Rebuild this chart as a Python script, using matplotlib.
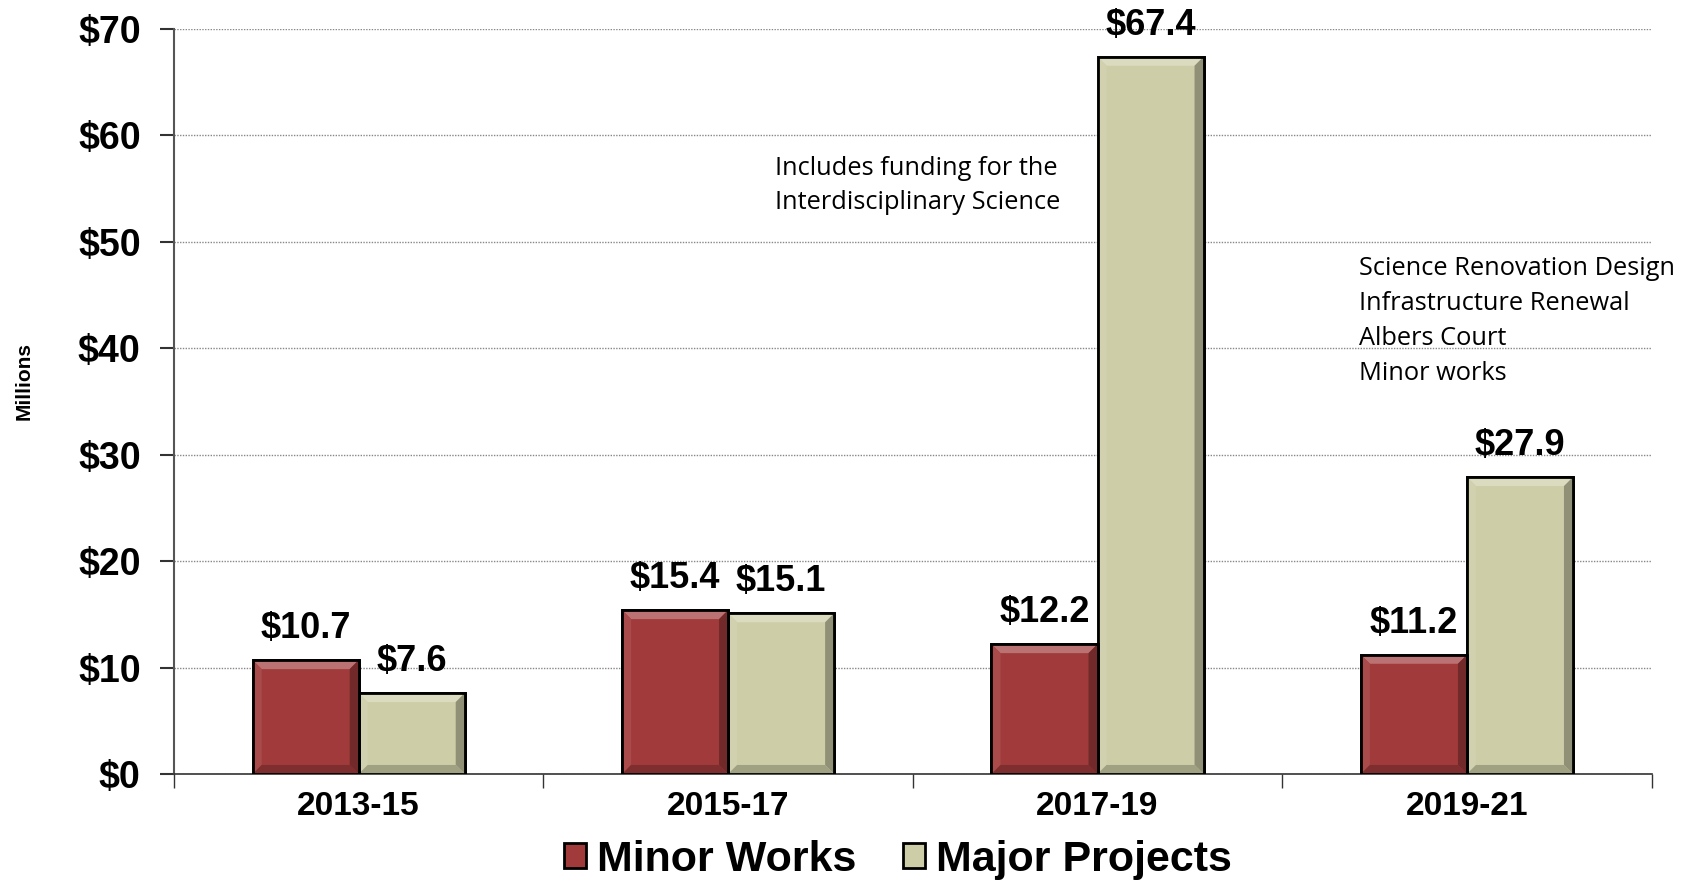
"""
Capital funding by biennium: minor works vs major projects
"""

import matplotlib
matplotlib.use("Agg")
import matplotlib.pyplot as plt
import matplotlib.patches as mpatches
import matplotlib.transforms as mtransforms
import numpy as np

# Data
periods = ["2013-15", "2015-17", "2017-19", "2019-21"]
minor_works = [10.7, 15.4, 12.2, 11.2]
major_projects = [7.6, 15.1, 67.4, 27.9]
series_names = ["Minor Works", "Major Projects"]
y_ticks = [0, 10, 20, 30, 40, 50, 60, 70]
note_science = "Includes funding for the\nInterdisciplinary Science"
note_renewal = "Science Renovation Design\nInfrastructure Renewal\nAlbers Court\nMinor works"

RED = "#A13B3B"
BEIGE = "#CDCDA8"


def shade(colour, amount):
    """Lighten (amount > 0) or darken (amount < 0) a colour."""
    rgb = np.array(matplotlib.colors.to_rgb(colour))
    if amount > 0:
        rgb = rgb + (1 - rgb) * amount
    else:
        rgb = rgb * (1 + amount)
    return tuple(np.clip(rgb, 0, 1))


def add_bevel(ax, patch, colour, depth=9):
    """Draw a bevelled edge inside a bar, in pixel units."""
    x0, y0, w, h = patch.get_x(), patch.get_y(), patch.get_width(), patch.get_height()
    (px0, py0), (px1, py1) = ax.transData.transform([(x0, y0), (x0 + w, y0 + h)])
    d = min(depth, (px1 - px0) / 2, (py1 - py0) / 2)
    outer = [(px0, py0), (px1, py0), (px1, py1), (px0, py1)]
    inner = [(px0 + d, py0 + d), (px1 - d, py0 + d), (px1 - d, py1 - d), (px0 + d, py1 - d)]
    faces = [
        ([outer[3], outer[2], inner[2], inner[3]], shade(colour, 0.28)),   # top
        ([outer[0], outer[3], inner[3], inner[0]], shade(colour, 0.08)),   # left
        ([outer[1], outer[2], inner[2], inner[1]], shade(colour, -0.30)),  # right
        ([outer[0], outer[1], inner[1], inner[0]], shade(colour, -0.22)),  # bottom
    ]
    for pts, c in faces:
        poly = mpatches.Polygon(pts, closed=True, facecolor=c, edgecolor="none",
                                transform=mtransforms.IdentityTransform(), zorder=3.5)
        poly.set_clip_on(False)
        ax.add_artist(poly)


fig = plt.figure(figsize=(16.94, 8.81), dpi=100)
ax = fig.add_axes([0.1027, 0.1215, 0.8723, 0.8455])

x = np.arange(len(periods))
width = 0.287

ax.set_xlim(-0.5, len(periods) - 0.5)
ax.set_ylim(0, 70)

bars_minor = ax.bar(x - width / 2, minor_works, width, color=RED, edgecolor="black",
                    linewidth=2, zorder=3)
bars_major = ax.bar(x + width / 2, major_projects, width, color=BEIGE, edgecolor="black",
                    linewidth=2, zorder=3)

for bars, colour in [(bars_minor, RED), (bars_major, BEIGE)]:
    for patch in bars:
        add_bevel(ax, patch, colour)
        # outline above the bevel
        ax.add_patch(mpatches.Rectangle((patch.get_x(), patch.get_y()), patch.get_width(),
                                        patch.get_height(), fill=False, edgecolor="black",
                                        linewidth=2, zorder=4))

label_font = dict(fontsize=26, fontweight="bold", family="Liberation Sans")
for bars in (bars_minor, bars_major):
    ax.bar_label(bars, labels=[f"${v:.1f}" for v in bars.datavalues], padding=10, **label_font)

# Axes styling
ax.set_yticks(y_ticks)
ax.set_yticklabels([f"${t}" for t in y_ticks], fontsize=27, fontweight="bold",
                   family="Liberation Sans")
ax.tick_params(axis="y", direction="out", length=10, width=1.5, color="#333333", pad=14)
ax.grid(axis="y", linestyle=(0, (1, 1)), color="#888888", linewidth=1, zorder=0)

ax.set_xticks(np.arange(len(periods) + 1) - 0.5)
ax.set_xticklabels([])
ax.tick_params(axis="x", which="major", direction="out", length=10, width=1, color="#333333")
ax.set_xticks(x, minor=True)
ax.set_xticklabels(periods, minor=True, fontsize=24, fontweight="bold", family="Liberation Sans")
ax.tick_params(axis="x", which="minor", length=0, pad=12)

ax.spines["top"].set_visible(False)
ax.spines["right"].set_visible(False)
ax.spines["left"].set_color("#555555")
ax.spines["left"].set_linewidth(1.5)
ax.spines["bottom"].set_color("#333333")
ax.spines["bottom"].set_linewidth(1.2)

fig.text(0.014, 0.568, "Millions", rotation=90, ha="center", va="center", fontsize=15,
         fontweight="bold", family="Liberation Sans")

# Notes
ax.text(0.407, 0.83, note_science, transform=ax.transAxes, ha="left", va="top",
        fontsize=18.3, family="Open Sans", linespacing=1.5)
ax.text(0.802, 0.695, note_renewal, transform=ax.transAxes, ha="left", va="top",
        fontsize=18.3, family="Open Sans", linespacing=1.52)

# Legend
handles = [mpatches.Patch(facecolor=RED, edgecolor="black", linewidth=2, label=series_names[0]),
           mpatches.Patch(facecolor=BEIGE, edgecolor="black", linewidth=2, label=series_names[1])]
fig.legend(handles=handles, loc="center", bbox_to_anchor=(0.53, 0.024), ncol=2, frameon=False,
           prop=dict(size=31, weight="bold", family="Liberation Sans"),
           handlelength=0.5, handleheight=0.5, handletextpad=0.25, columnspacing=1.1)

fig.savefig("out.png", dpi=100)
plt.close(fig)
